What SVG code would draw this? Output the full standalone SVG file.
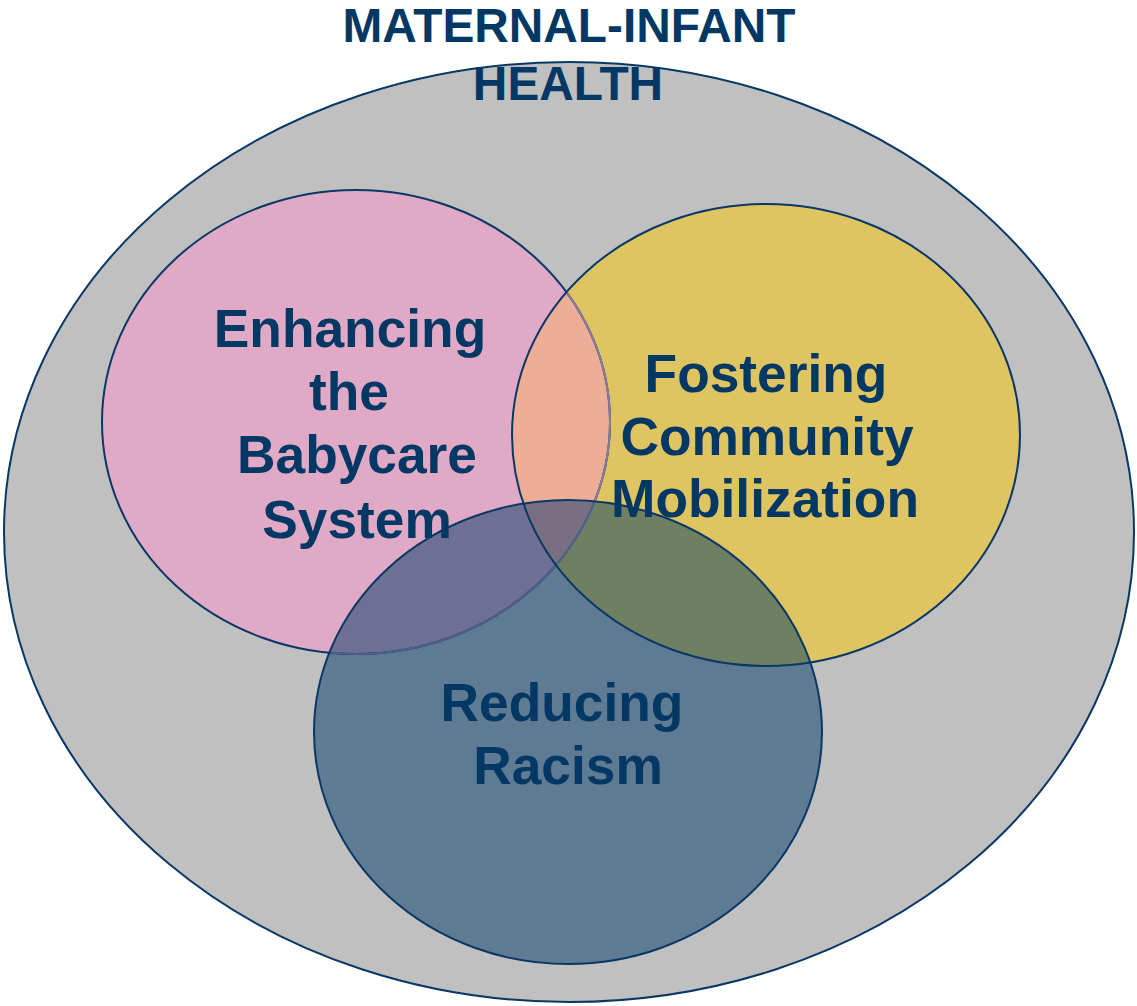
<svg xmlns="http://www.w3.org/2000/svg" width="1137" height="1006" viewBox="0 0 1137 1006">
<style>
.t{font-family:"Liberation Sans",Arial,sans-serif;font-weight:bold;fill:#033864;text-anchor:middle}
.big{font-size:53.3px}
.ttl{font-size:47.8px}
.ln{fill:none;stroke:#093866;stroke-width:2}
</style>
<defs>
<ellipse id="eP" cx="356" cy="422" rx="254" ry="232"/>
<ellipse id="eY" cx="766" cy="435" rx="254" ry="231"/>
<ellipse id="eB" cx="568" cy="732" rx="254" ry="232"/>
<clipPath id="cY"><use href="#eY"/></clipPath>
<clipPath id="cB"><use href="#eB"/></clipPath>
<clipPath id="cP"><use href="#eP"/></clipPath>
</defs>
<g id="outer">
<ellipse cx="569" cy="532" rx="565" ry="470" fill="#c0c0c0" stroke="#093866" stroke-width="2"/>
</g>
<g id="fills">
<use href="#eP" fill="#e0aac6"/>
<use href="#eY" fill="#dfc562"/>
<use href="#eP" fill="#eeae96" clip-path="url(#cY)"/>
<use href="#eB" fill="#5f7b93"/>
<use href="#eP" fill="#6e7093" clip-path="url(#cB)"/>
<use href="#eY" fill="#6f7f62" clip-path="url(#cB)"/>
<g clip-path="url(#cB)"><use href="#eP" fill="#787080" clip-path="url(#cY)"/></g>
</g>
<g id="outlines">
<use href="#eP" class="ln"/>
<use href="#eP" fill="none" stroke="#8a7aa2" stroke-width="2" clip-path="url(#cY)"/>
<use href="#eP" fill="none" stroke="#4d5f8a" stroke-width="2" clip-path="url(#cB)"/>
<use href="#eY" class="ln"/>
<use href="#eB" class="ln"/>
</g>
<g id="title">
<text class="t ttl" x="569" y="42">MATERNAL-INFANT</text>
<text class="t ttl" x="568" y="100">HEALTH</text>
</g>
<g id="node-babycare">
<text class="t big" x="350" y="347">Enhancing</text>
<text class="t big" x="349" y="410">the</text>
<text class="t big" x="357" y="473">Babycare</text>
<text class="t big" x="357" y="538">System</text>
</g>
<g id="node-community">
<text class="t big" x="766" y="392">Fostering</text>
<text class="t big" x="767" y="455">Community</text>
<text class="t big" x="765" y="517">Mobilization</text>
</g>
<g id="node-racism">
<text class="t big" x="562" y="721">Reducing</text>
<text class="t big" x="568" y="784">Racism</text>
</g>
<g id="connectors"/>
</svg>
